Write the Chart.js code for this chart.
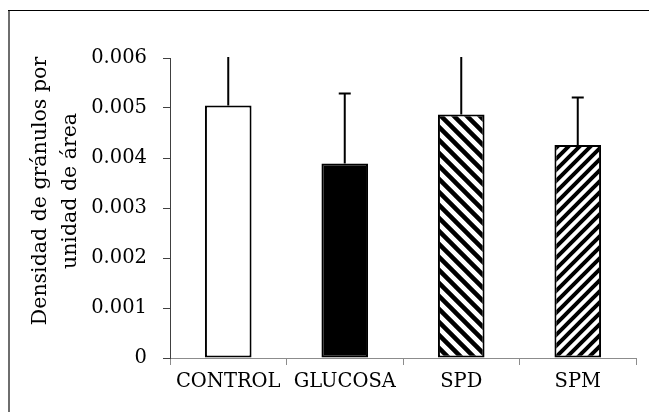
<!DOCTYPE html>
<html>
<head>
<meta charset="utf-8">
<script src="https://cdn.jsdelivr.net/npm/chart.js@4/dist/chart.umd.min.js"></script>
<style>
html,body{margin:0;padding:0;background:#fff;}
#wrap{width:649px;height:412px;position:relative;}
</style>
</head>
<body>
<div id="wrap"><canvas id="c" width="649" height="412"></canvas></div>
<script>
const categories = ['CONTROL', 'GLUCOSA', 'SPD', 'SPM'];
const means = [0.00505, 0.00389, 0.00487, 0.00426];
const errors = [0.0013, 0.0014, 0.0014, 0.00095];
const yTickLabels = ['0', '0.001', '0.002', '0.003', '0.004', '0.005', '0.006'];
const yTitleLines = ['Densidad de gránulos por', 'unidad de área'];

const FONT = '"DejaVu Serif", "Liberation Serif", serif';

function hatch(dir, size, lw) {
  const c = document.createElement('canvas');
  c.width = size; c.height = size;
  const g = c.getContext('2d');
  g.fillStyle = '#fff'; g.fillRect(0, 0, size, size);
  g.strokeStyle = '#000'; g.lineWidth = lw; g.lineCap = 'square';
  g.beginPath();
  if (dir === 'back') {
    for (let k = -1; k <= 1; k++) {
      g.moveTo(k * size - 2, -2); g.lineTo(k * size + size + 2, size + 2);
    }
  } else {
    for (let k = -1; k <= 1; k++) {
      g.moveTo(k * size - 2, size + 2); g.lineTo(k * size + size + 2, -2);
    }
  }
  g.stroke();
  return document.getElementById('c').getContext('2d').createPattern(c, 'repeat');
}

const fills = ['#ffffff', '#000000', hatch('back', 13, 4.5), hatch('fwd', 11, 4)];

const errorBars = {
  id: 'errorBars',
  afterDatasetsDraw(chart) {
    const ctx = chart.ctx, a = chart.chartArea, ys = chart.scales.y;
    const meta = chart.getDatasetMeta(0);
    ctx.save();
    ctx.beginPath(); ctx.rect(a.left, a.top - 1, a.right - a.left, a.bottom - a.top + 2); ctx.clip();
    ctx.strokeStyle = '#000'; ctx.lineWidth = 2;
    meta.data.forEach((el, i) => {
      const top = ys.getPixelForValue(means[i] + errors[i]);
      ctx.beginPath();
      ctx.moveTo(el.x, el.y); ctx.lineTo(el.x, top);
      ctx.moveTo(el.x - 6, top); ctx.lineTo(el.x + 6, top);
      ctx.stroke();
    });
    ctx.restore();
  }
};

const frameAndTitle = {
  id: 'frameAndTitle',
  afterDraw(chart) {
    const ctx = chart.ctx;
    ctx.save();
    ctx.strokeStyle = '#6e6e6e'; ctx.lineWidth = 2;
    ctx.beginPath(); ctx.moveTo(9, 10); ctx.lineTo(9, 412); ctx.stroke();
    ctx.strokeStyle = '#000'; ctx.lineWidth = 1.2;
    ctx.beginPath(); ctx.moveTo(8, 10.5); ctx.lineTo(649, 10.5); ctx.stroke();
    ctx.translate(0, 191);
    ctx.rotate(-Math.PI / 2);
    ctx.fillStyle = '#000';
    ctx.font = '20.5px ' + FONT;
    ctx.textAlign = 'center'; ctx.textBaseline = 'middle';
    ctx.fillText(yTitleLines[0], 0, 41);
    ctx.fillText(yTitleLines[1], 0, 71);
    ctx.restore();
  }
};

new Chart(document.getElementById('c'), {
  type: 'bar',
  data: {
    labels: categories,
    datasets: [{
      data: means,
      backgroundColor: fills,
      borderColor: '#000',
      borderWidth: 2,
      borderSkipped: false,
      barPercentage: 0.4,
      categoryPercentage: 1.0
    }]
  },
  options: {
    responsive: false,
    animation: false,
    devicePixelRatio: 1,
    layout: { padding: { left: 0, top: 58, right: 13, bottom: 0 } },
    plugins: { legend: { display: false }, tooltip: { enabled: false } },
    scales: {
      x: {
        afterFit(s) { s.height = 54; },
        grid: { display: true, drawOnChartArea: false, drawTicks: true, tickLength: 7, color: '#8c8c8c', offset: true },
        border: { display: true, color: '#8c8c8c', width: 1 },
        ticks: { color: '#000', font: { family: FONT, size: 19.5 }, padding: 5 }
      },
      y: {
        min: 0, max: 0.006,
        afterFit(s) { s.width = 170; },
        grid: { display: true, drawOnChartArea: false, drawTicks: true, tickLength: 7, color: '#404040' },
        border: { display: true, color: '#404040', width: 1 },
        ticks: {
          stepSize: 0.001,
          color: '#000',
          font: { family: FONT, size: 19.5 },
          padding: 16,
          callback: (v, i) => yTickLabels[i]
        }
      }
    }
  },
  plugins: [errorBars, frameAndTitle]
});
</script>
</body>
</html>
